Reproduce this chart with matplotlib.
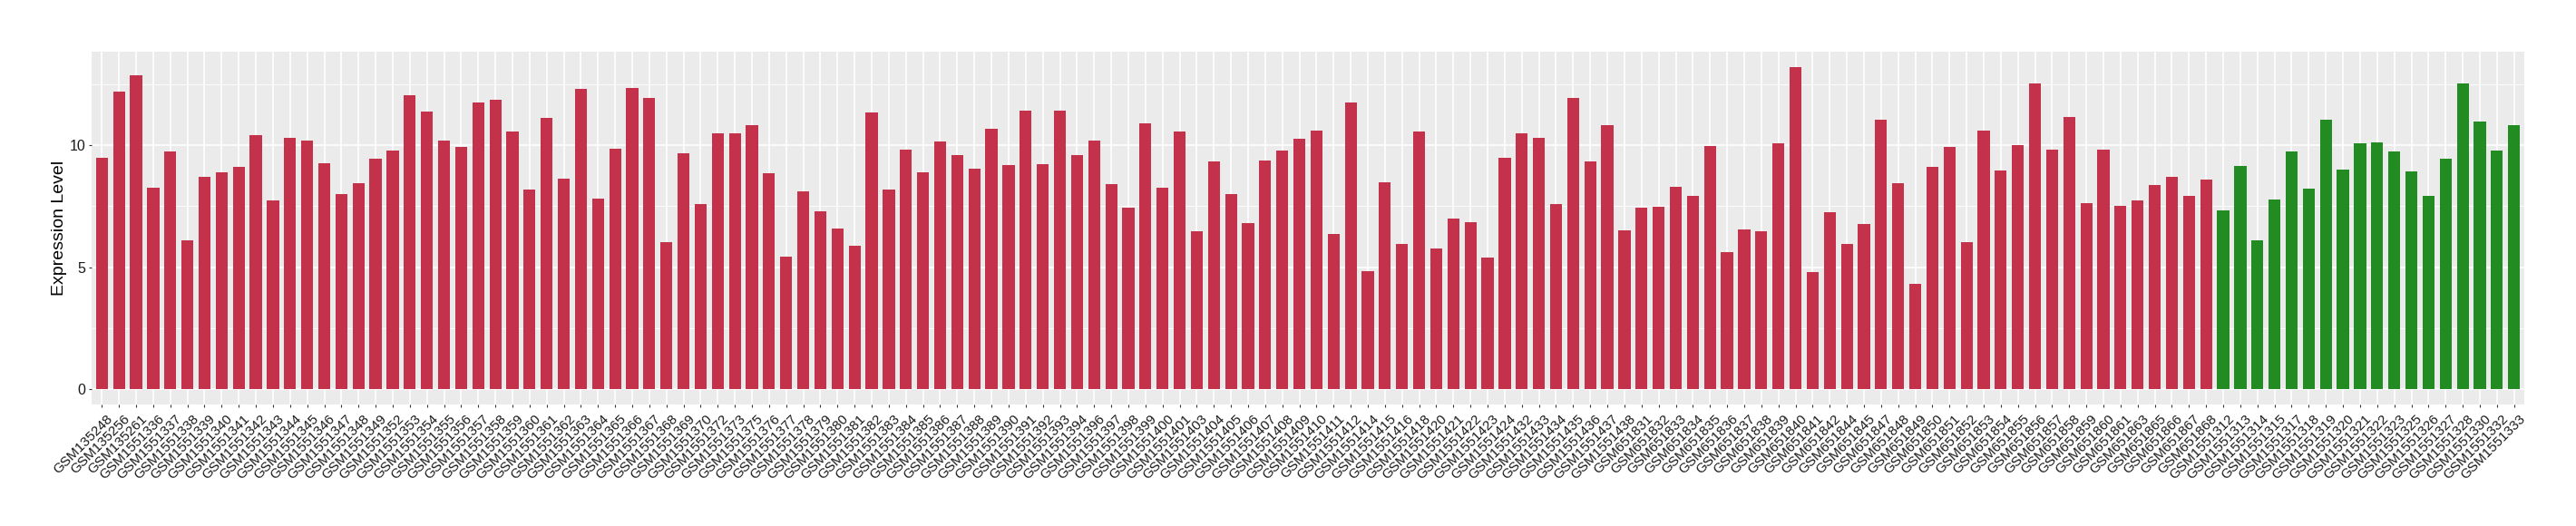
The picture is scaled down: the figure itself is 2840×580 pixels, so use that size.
import numpy as np
import matplotlib
matplotlib.use("Agg")
import matplotlib.pyplot as plt
from matplotlib.transforms import ScaledTranslation

plt.rcParams['font.family'] = ['Liberation Sans', 'DejaVu Sans']

# samples in the first group (red)
red_samples = [
    "GSM135248", "GSM135256", "GSM135261", "GSM1551336", "GSM1551337", "GSM1551338",
    "GSM1551339", "GSM1551340", "GSM1551341", "GSM1551342", "GSM1551343", "GSM1551344",
    "GSM1551345", "GSM1551346", "GSM1551347", "GSM1551348", "GSM1551349", "GSM1551352",
    "GSM1551353", "GSM1551354", "GSM1551355", "GSM1551356", "GSM1551357", "GSM1551358",
    "GSM1551359", "GSM1551360", "GSM1551361", "GSM1551362", "GSM1551363", "GSM1551364",
    "GSM1551365", "GSM1551366", "GSM1551367", "GSM1551368", "GSM1551369", "GSM1551370",
    "GSM1551372", "GSM1551373", "GSM1551375", "GSM1551376", "GSM1551377", "GSM1551378",
    "GSM1551379", "GSM1551380", "GSM1551381", "GSM1551382", "GSM1551383", "GSM1551384",
    "GSM1551385", "GSM1551386", "GSM1551387", "GSM1551388", "GSM1551389", "GSM1551390",
    "GSM1551391", "GSM1551392", "GSM1551393", "GSM1551394", "GSM1551396", "GSM1551397",
    "GSM1551398", "GSM1551399", "GSM1551400", "GSM1551401", "GSM1551403", "GSM1551404",
    "GSM1551405", "GSM1551406", "GSM1551407", "GSM1551408", "GSM1551409", "GSM1551410",
    "GSM1551411", "GSM1551412", "GSM1551414", "GSM1551415", "GSM1551416", "GSM1551418",
    "GSM1551420", "GSM1551421", "GSM1551422", "GSM1551423", "GSM1551424", "GSM1551432",
    "GSM1551433", "GSM1551434", "GSM1551435", "GSM1551436", "GSM1551437", "GSM1551438",
    "GSM651831", "GSM651832", "GSM651833", "GSM651834", "GSM651835", "GSM651836",
    "GSM651837", "GSM651838", "GSM651839", "GSM651840", "GSM651841", "GSM651842",
    "GSM651844", "GSM651845", "GSM651847", "GSM651848", "GSM651849", "GSM651850",
    "GSM651851", "GSM651852", "GSM651853", "GSM651854", "GSM651855", "GSM651856",
    "GSM651857", "GSM651858", "GSM651859", "GSM651860", "GSM651861", "GSM651863",
    "GSM651865", "GSM651866", "GSM651867", "GSM651868",
]
red_values = [
    9.49, 12.20, 12.87, 8.25, 9.75, 6.11, 8.71, 8.89, 9.12, 10.41, 7.74, 10.30,
    10.19, 9.26, 7.99, 8.45, 9.45, 9.78, 12.05, 11.38, 10.19, 9.93, 11.76, 11.87,
    10.56, 8.18, 11.13, 8.62, 12.31, 7.81, 9.86, 12.35, 11.94, 6.02, 9.67, 7.59,
    10.50, 10.50, 10.83, 8.86, 5.43, 8.12, 7.29, 6.59, 5.87, 11.35, 8.18, 9.82,
    8.89, 10.15, 9.60, 9.04, 10.67, 9.19, 11.42, 9.23, 11.42, 9.60, 10.19, 8.40,
    7.44, 10.89, 8.25, 10.56, 6.48, 9.34, 7.99, 6.81, 9.37, 9.78, 10.26, 10.61,
    6.37, 11.76, 4.84, 8.49, 5.96, 10.56, 5.76, 6.99, 6.85, 5.39, 9.49, 10.50,
    10.30, 7.59, 11.94, 9.34, 10.83, 6.51, 7.44, 7.48, 8.29, 7.92, 9.97, 5.61,
    6.55, 6.48, 10.08, 13.20, 4.80, 7.25, 5.96, 6.77, 11.05, 8.45, 4.32, 9.12,
    9.93, 6.02, 10.61, 8.97, 10.00, 12.53, 9.82, 11.16, 7.62, 9.82, 7.51, 7.74,
    8.36, 8.71, 7.92, 8.60,
]

# samples in the second group (green)
green_samples = [
    "GSM1551312", "GSM1551313", "GSM1551314", "GSM1551315", "GSM1551317", "GSM1551318",
    "GSM1551319", "GSM1551320", "GSM1551321", "GSM1551322", "GSM1551323", "GSM1551325",
    "GSM1551326", "GSM1551327", "GSM1551328", "GSM1551330", "GSM1551332", "GSM1551333",
]
green_values = [
    7.33, 9.15, 6.11, 7.77, 9.75, 8.23, 11.05, 9.00, 10.08, 10.12, 9.75, 8.93,
    7.92, 9.45, 12.53, 10.98, 9.78, 10.83,
]

RED = "#C3314A"
GREEN = "#228B22"

samples = red_samples + green_samples
values = red_values + green_values
colors = [RED] * len(red_samples) + [GREEN] * len(green_samples)
x = np.arange(len(samples))

W, H = 2840, 580
left, right, top, bottom = 101, 2783, 56.6, 445.8
fig = plt.figure(figsize=(W / 100, H / 100), dpi=100)
ax = fig.add_axes([left / W, 1 - bottom / H, (right - left) / W, (bottom - top) / H])

ax.set_facecolor("#EBEBEB")
ax.bar(x, values, width=0.7, color=colors, zorder=3)

ax.set_xlim(-0.6, len(samples) - 1 + 0.6)
ax.set_ylim(-0.62, 13.85)
ax.set_yticks([0, 5, 10])
ax.set_yticks([2.5, 7.5, 12.5], minor=True)
ax.set_xticks(x)
ax.set_xticklabels(samples, rotation=45, ha="right", va="top",
                   rotation_mode="anchor", fontsize=11, color="#1A1A1A")
ax.tick_params(axis="y", labelsize=11.5, labelcolor="#1A1A1A", pad=2)
ax.tick_params(axis="both", which="major", length=2.5, width=0.8, color="#333333")
ax.tick_params(axis="x", pad=4)
ax.tick_params(axis="y", which="minor", length=0)

# nudge the rotated sample names a little to the right, like the original
shift = ScaledTranslation(5 / 100, 0, fig.dpi_scale_trans)
for lbl in ax.get_xticklabels():
    lbl.set_transform(lbl.get_transform() + shift)

ax.grid(which="major", color="white", linewidth=1.2, zorder=0)
ax.grid(which="minor", axis="y", color="white", linewidth=0.6, zorder=0)
ax.set_axisbelow(True)
for s in ax.spines.values():
    s.set_visible(False)

ax.set_ylabel("Expression Level", fontsize=14)
ax.yaxis.set_label_coords((74 - left) / (right - left), 0.5)

fig.savefig("out.png", dpi=100)
